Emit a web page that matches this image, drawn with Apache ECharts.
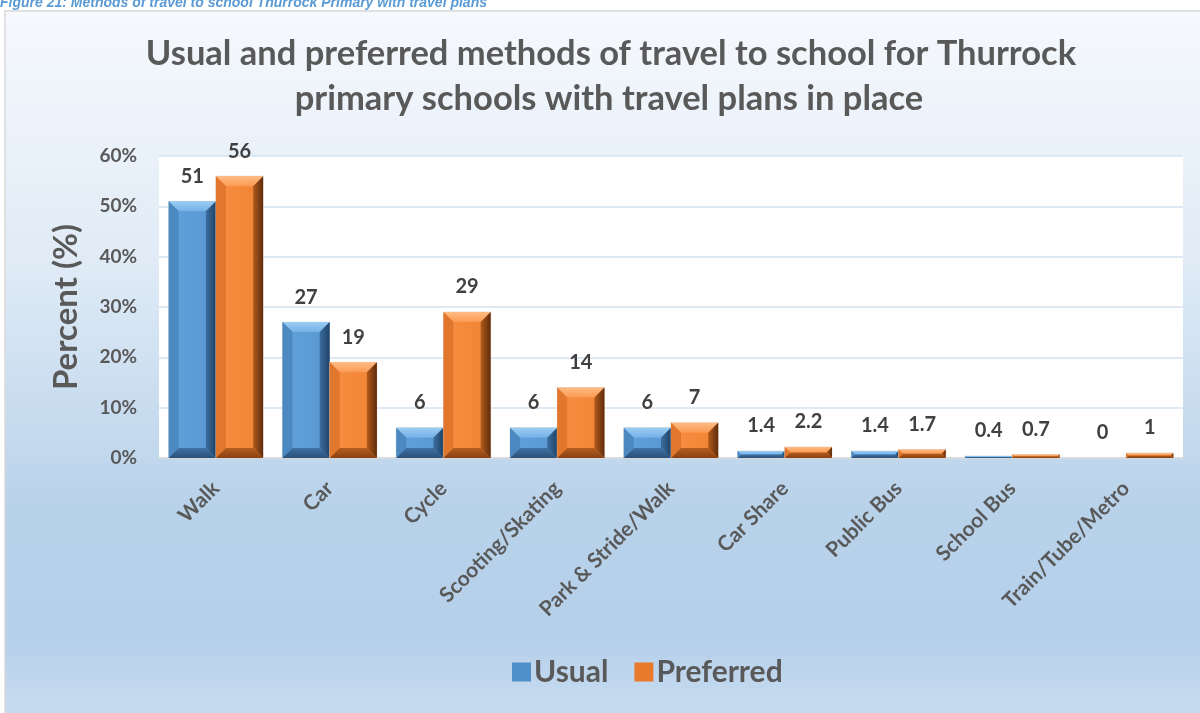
<!DOCTYPE html>
<html>
<head>
<meta charset="utf-8">
<title>Travel to school – Thurrock primary schools</title>
<script src="https://cdn.jsdelivr.net/npm/echarts@6/dist/echarts.min.js"></script>
<style>
  html, body { margin: 0; padding: 0; background: #ffffff; }
  #chart { width: 1200px; height: 713px; }
</style>
</head>
<body>
<div id="chart"></div>
<script>
// Travel modes surveyed
const categories = ['Walk', 'Car', 'Cycle', 'Scooting/Skating', 'Park & Stride/Walk',
                    'Car Share', 'Public Bus', 'School Bus', 'Train/Tube/Metro'];
// Percentages of pupils
const usual     = [51, 27, 6, 6, 6, 1.4, 1.4, 0.4, 0];
const preferred = [56, 19, 29, 14, 7, 2.2, 1.7, 0.7, 1];
const seriesNames = ['Usual', 'Preferred'];
const yTicks = [0, 10, 20, 30, 40, 50, 60];

const FONT = 'Lato, "Open Sans", sans-serif';
const TEXT = '#595959';

// Bevel palettes: face gradient, top, left, right (inner -> edge), bottom
const bluePal = {
  face: ['#62a2dc', '#5896d0'], top: ['#9ccdf3', '#74b0e6'], left: '#4d89c1',
  right: ['#3c6e9f', '#1f4266'], bottom: ['#3f72a4', '#2a5078']
};
const orangePal = {
  face: ['#f88f42', '#f08334'], top: ['#ffbb85', '#fb9a52'], left: '#e0772c',
  right: ['#b25a1c', '#5e2c0c'], bottom: ['#b65d1f', '#874112']
};

function lg(x0, y0, x1, y1, c) {
  return new echarts.graphic.LinearGradient(x0, y0, x1, y1, [
    { offset: 0, color: c[0] }, { offset: 1, color: c[1] }
  ]);
}

function bevelBar(side, pal) {
  return function (params, api) {
    const i = api.value(0);
    const v = api.value(1);
    const base = api.coord([i, 0]);
    const top = api.coord([i, v]);
    const band = api.size([1, 0])[0];
    const w = band * 0.415;
    const x0 = side < 0 ? base[0] - w : base[0];
    const x1 = x0 + w;
    const y0 = top[1];
    const y1 = base[1];
    const h = y1 - y0;
    const d = Math.max(0, Math.min(10, h / 2, w / 2));
    const children = [];
    if (h > 0.3) {
      children.push({
        type: 'rect',
        shape: { x: x0, y: y0, width: w, height: h },
        style: { fill: lg(0, 0, 1, 0, pal.face), stroke: '#d4d4d4', lineWidth: 0.6 }
      });
      children.push({ type: 'polygon', shape: { points: [[x0, y0], [x1, y0], [x1 - d, y0 + d], [x0 + d, y0 + d]] }, style: { fill: lg(0, 0, 0, 1, pal.top) } });
      children.push({ type: 'polygon', shape: { points: [[x0, y0], [x0 + d, y0 + d], [x0 + d, y1 - d], [x0, y1]] }, style: { fill: pal.left } });
      children.push({ type: 'polygon', shape: { points: [[x1, y0], [x1, y1], [x1 - d, y1 - d], [x1 - d, y0 + d]] }, style: { fill: lg(0, 0, 1, 0, pal.right) } });
      children.push({ type: 'polygon', shape: { points: [[x0, y1], [x1, y1], [x1 - d, y1 - d], [x0 + d, y1 - d]] }, style: { fill: lg(0, 0, 0, 1, pal.bottom) } });
    }
    children.push({
      type: 'text',
      x: (x0 + x1) / 2,
      y: y0 - 25,
      style: {
        text: String(v),
        fill: '#404040',
        font: 'bold 20px ' + FONT,
        align: 'center',
        verticalAlign: 'middle'
      }
    });
    return { type: 'group', children: children };
  };
}

const chart = echarts.init(document.getElementById('chart'), null, { renderer: 'canvas' });

chart.setOption({
  animation: false,
  backgroundColor: '#ffffff',
  graphic: [
    {
      type: 'rect',
      z: -10,
      shape: { x: 5, y: 11, width: 1205, height: 712 },
      style: {
        fill: new echarts.graphic.LinearGradient(0, 0, 0, 1, [
          { offset: 0, color: '#f6f9fd' },
          { offset: 0.35, color: '#e0ebf6' },
          { offset: 0.7, color: '#b8d2ea' },
          { offset: 0.88, color: '#b6d0ea' },
          { offset: 1, color: '#c9ddf0' }
        ]),
        stroke: '#d9d9d9',
        lineWidth: 1.5
      }
    },
    {
      type: 'text',
      left: 0,
      top: -4,
      style: {
        text: 'Figure 21: Methods of travel to school Thurrock Primary with travel plans',
        fill: '#5b9bd5',
        font: 'italic bold 14px "Liberation Sans", Arial, sans-serif'
      }
    },
    {
      type: 'text',
      x: 611,
      y: 54,
      style: {
        text: 'Usual and preferred methods of travel to school for Thurrock',
        fill: TEXT,
        font: 'bold 34.5px ' + FONT,
        align: 'center',
        verticalAlign: 'middle'
      }
    },
    {
      type: 'text',
      x: 609,
      y: 99,
      style: {
        text: 'primary schools with travel plans in place',
        fill: TEXT,
        font: 'bold 34.5px ' + FONT,
        align: 'center',
        verticalAlign: 'middle'
      }
    }
  ],
  legend: {
    left: 507,
    top: 652,
    itemWidth: 19,
    itemHeight: 19,
    itemGap: 26,
    icon: 'rect',
    data: [
      { name: seriesNames[0], itemStyle: { color: '#4f8fca' } },
      { name: seriesNames[1], itemStyle: { color: '#e9792c' } }
    ],
    textStyle: { color: TEXT, fontFamily: FONT, fontWeight: 'bold', fontSize: 30, padding: [0, 0, 0, -2] }
  },
  grid: {
    left: 159, right: 17, top: 156, bottom: 255,
    show: true, backgroundColor: '#ffffff', borderWidth: 0
  },
  xAxis: {
    type: 'category',
    data: categories,
    axisTick: { show: false },
    axisLine: { lineStyle: { color: '#d9d9d9', width: 1.5 } },
    axisLabel: {
      interval: 0, rotate: 45, margin: 27,
      color: TEXT, fontFamily: FONT, fontWeight: 'bold', fontSize: 21
    }
  },
  yAxis: {
    type: 'value',
    min: yTicks[0],
    max: yTicks[yTicks.length - 1],
    interval: 10,
    name: 'Percent (%)',
    nameLocation: 'middle',
    nameGap: 76,
    nameTextStyle: { color: TEXT, fontFamily: FONT, fontWeight: 'bold', fontSize: 33 },
    axisLine: { show: false },
    axisTick: { show: false },
    axisLabel: { formatter: '{value}%', margin: 22, color: TEXT, fontFamily: FONT, fontWeight: 'bold', fontSize: 19 },
    splitLine: { lineStyle: { color: '#d3e2f1', width: 1.5 } }
  },
  series: [
    {
      name: seriesNames[0],
      type: 'custom',
      itemStyle: { color: '#4f8fca' },
      renderItem: bevelBar(-1, bluePal),
      encode: { x: 0, y: 1 },
      data: categories.map((c, i) => [i, usual[i]])
    },
    {
      name: seriesNames[1],
      type: 'custom',
      itemStyle: { color: '#e9792c' },
      renderItem: bevelBar(1, orangePal),
      encode: { x: 0, y: 1 },
      data: categories.map((c, i) => [i, preferred[i]])
    }
  ]
});
</script>
</body>
</html>
